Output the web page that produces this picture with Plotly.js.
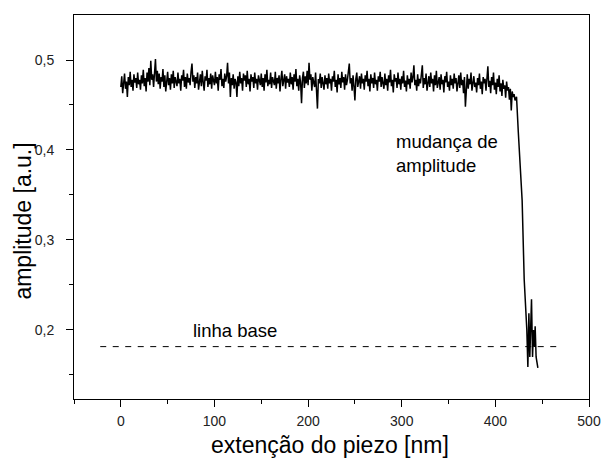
<!DOCTYPE html>
<html><head><meta charset="utf-8">
<script src="https://cdn.plot.ly/plotly-3.0.1.min.js"></script>
<style>html,body{margin:0;padding:0;background:#fff}#chart{width:602px;height:459px}</style>
</head><body><div id="chart"></div>
<script>
const flatStart = 0;
const flatStep = 1;
const flatAmp = [
.470,.482,.463,.479,.485,.468,.476,.459,.481,.472,.487,.470,.478,.466,.484,.475,.480,.469,.486,.473,
.478,.467,.483,.474,.489,.471,.480,.465,.486,.476,.491,.472,.499,.478,.484,.470,.493,.501,.476,.488,
.473,.485,.468,.481,.476,.490,.470,.483,.465,.479,.487,.472,.480,.467,.484,.474,.488,.469,.481,.476,
.471,.486,.474,.479,.466,.483,.477,.489,.470,.481,.468,.485,.475,.480,.472,.487,.496,.476,.483,.469,
.481,.474,.486,.467,.479,.484,.471,.488,.475,.466,.482,.477,.489,.470,.480,.473,.485,.468,.483,.476,
.472,.487,.474,.481,.466,.484,.478,.490,.471,.479,.469,.485,.476,.482,.497,.474,.486,.459,.480,.472,
.484,.468,.479,.475,.459,.482,.471,.487,.474,.480,.466,.485,.477,.483,.470,.488,.473,.479,.465,.484,
.476,.481,.469,.486,.474,.479,.467,.483,.477,.472,.485,.470,.480,.466,.484,.475,.489,.471,.478,.473,
.486,.469,.481,.476,.472,.487,.468,.480,.474,.483,.465,.479,.488,.471,.477,.484,.468,.482,.475,.479,
.470,.486,.473,.481,.467,.484,.476,.490,.471,.479,.466,.483,.475,.452,.480,.487,.469,.482,.474,.488,
.472,.497,.478,.484,.466,.481,.475,.470,.486,.462,.446,.479,.474,.485,.469,.481,.476,.467,.483,.473,
.480,.468,.485,.474,.479,.466,.482,.476,.488,.470,.478,.464,.484,.473,.480,.469,.487,.475,.481,.467,
.484,.472,.478,.489,.496,.474,.480,.466,.483,.471,.455,.479,.486,.470,.477,.482,.468,.485,.474,.479,
.467,.483,.476,.488,.471,.479,.465,.484,.474,.480,.469,.486,.473,.478,.466,.482,.476,.487,.470,.481,
.474,.468,.485,.472,.479,.466,.483,.475,.489,.471,.478,.464,.484,.476,.480,.469,.486,.473,.479,.467,
.482,.474,.488,.470,.477,.465,.483,.473,.479,.468,.486,.475,.481,.494,.472,.478,.466,.484,.471,.479,
.474,.487,.494,.469,.480,.473,.485,.466,.478,.482,.470,.486,.474,.479,.465,.483,.472,.488,.469,.477,
.481,.467,.484,.473,.478,.464,.482,.475,.487,.470,.476,.466,.483,.472,.479,.468,.485,.474,.480,.465,
.477,.483,.469,.486,.472,.478,.463,.481,.448,.474,.484,.468,.479,.473,.486,.466,.477,.482,.470,.475,
.464,.480,.472,.485,.468,.476,.462,.481,.474,.479,.466,.483,.493,.470,.477,.463,.481,.472,.486,.467,
.475,.462,.479,.470,.483,.465,.474,.460,.478,.468,.472,.458,.476,.466,.470,.456,.468,.444,.465,.459,
.462,.455,.459
];
// drop and oscillation after the amplitude change
const dropX   = [422.6, 424.5, 426.5, 428.6, 430.8, 432.2, 433.6, 434.7, 435.8, 436.8, 438.6, 439.7, 440.7, 441.8, 442.5, 443.5, 445.4];
const dropAmp = [0.459, 0.420, 0.385, 0.344, 0.256, 0.228, 0.200, 0.159, 0.2185, 0.170, 0.234, 0.170, 0.200, 0.181, 0.204, 0.170, 0.158];
// base line
const baseX = [-22, 468];
const baseY = [0.1815, 0.1815];

const xTicks = [0, 100, 200, 300, 400, 500];
const yTicks = [0.2, 0.3, 0.4, 0.5];

const labels = {
  x: 'extenção do piezo [nm]',
  y: 'amplitude [a.u.]',
  change: 'mudança de<br>amplitude',
  base: 'linha base'
};

const xs = flatAmp.map((_, i) => flatStart + i * flatStep).concat(dropX);
const ys = flatAmp.concat(dropAmp);

const FONT = 'Liberation Sans, Arial, sans-serif';

const traces = [
  {x: xs, y: ys, type: 'scatter', mode: 'lines', line: {color: '#000', width: 1.5}, hoverinfo: 'skip'},
  {x: baseX, y: baseY, type: 'scatter', mode: 'lines', line: {color: '#000', width: 1, dash: '6px,6.5px'}, hoverinfo: 'skip'}
];

const axisCommon = {
  showgrid: false, zeroline: false, showline: true, linecolor: '#000', linewidth: 1,
  mirror: true, ticks: 'outside', ticklen: 7, tickwidth: 1, tickcolor: '#000',
  tickfont: {family: FONT, size: 14, color: '#222'}
};

const layout = {
  width: 602, height: 459,
  margin: {l: 74, r: 13, t: 15, b: 60},
  paper_bgcolor: '#fff', plot_bgcolor: '#fff',
  showlegend: false,
  separators: ',.',
  font: {family: FONT, color: '#000'},
  xaxis: Object.assign({}, axisCommon, {
    range: [-50, 500], tickvals: xTicks, ticktext: xTicks.map(String),
    minor: {ticks: 'outside', ticklen: 4, tickcolor: '#000', tickvals: [-50, 50, 150, 250, 350, 450]},
    ticklabelstandoff: 2
  }),
  yaxis: Object.assign({}, axisCommon, {
    range: [0.1233, 0.55], tickvals: yTicks, tickformat: '.1f',
    minor: {ticks: 'outside', ticklen: 4, tickcolor: '#000', tickvals: [0.15, 0.25, 0.35, 0.45]},
    ticklabelstandoff: 9
  }),
  annotations: [
    {x: 0.497, y: -0.119, xref: 'paper', yref: 'paper', text: labels.x, showarrow: false,
     xanchor: 'center', yanchor: 'middle', font: {family: FONT, size: 23, color: '#000'}},
    {x: -0.099, y: 0.462, xref: 'paper', yref: 'paper', text: labels.y, showarrow: false, textangle: -90,
     xanchor: 'center', yanchor: 'middle', font: {family: FONT, size: 23, color: '#000'}},
    {x: 291.7, y: 0.3956, xref: 'x', yref: 'y', text: labels.change, showarrow: false,
     xanchor: 'left', yanchor: 'middle', align: 'left', font: {family: FONT, size: 18.5, color: '#000'}},
    {x: 74.7, y: 0.1995, xref: 'x', yref: 'y', text: labels.base, showarrow: false,
     xanchor: 'left', yanchor: 'middle', font: {family: FONT, size: 18.5, color: '#000'}}
  ]
};

Plotly.newPlot('chart', traces, layout, {staticPlot: true, displayModeBar: false});
</script>
</body></html>
